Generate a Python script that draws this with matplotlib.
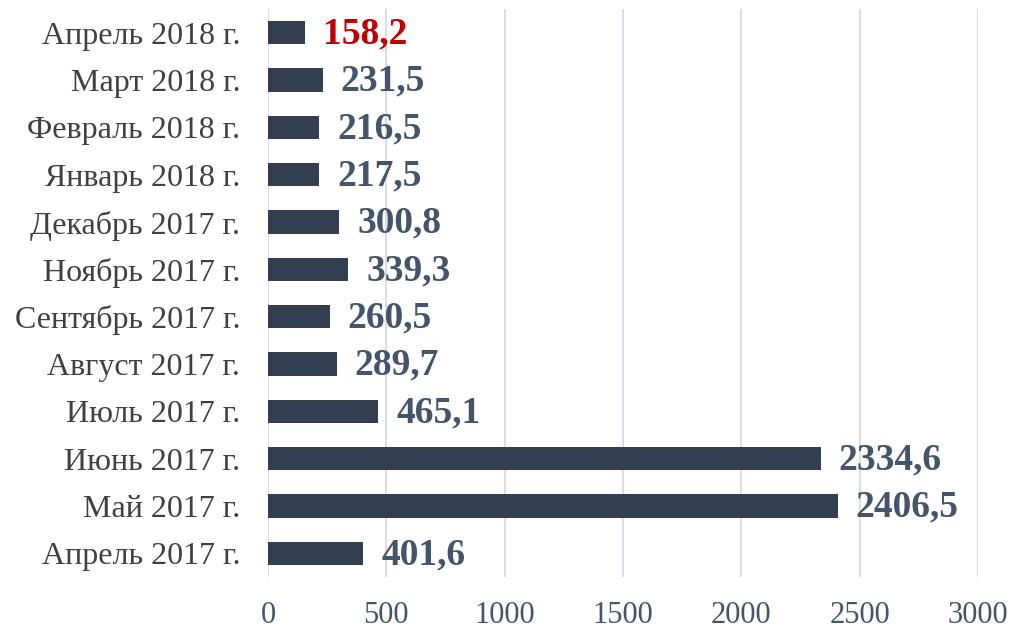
import matplotlib
matplotlib.use("Agg")
import matplotlib.pyplot as plt

categories = ["Апрель 2017 г.", "Май 2017 г.", "Июнь 2017 г.", "Июль 2017 г.",
              "Август 2017 г.", "Сентябрь 2017 г.", "Ноябрь 2017 г.", "Декабрь 2017 г.",
              "Январь 2018 г.", "Февраль 2018 г.", "Март 2018 г.", "Апрель 2018 г."]
values = [401.6, 2406.5, 2334.6, 465.1, 289.7, 260.5, 339.3, 300.8, 217.5, 216.5, 231.5, 158.2]
value_labels = ["401,6", "2406,5", "2334,6", "465,1", "289,7", "260,5", "339,3", "300,8",
                "217,5", "216,5", "231,5", "158,2"]
xticks = [0, 500, 1000, 1500, 2000, 2500, 3000]

plt.rcParams['font.family'] = ['Liberation Serif', 'DejaVu Serif']

fig = plt.figure(figsize=(10.14, 6.29), dpi=100)
ax = fig.add_axes([268/1014, 1 - 577/629, (978-268)/1014, (577-9)/629])

bar_color = "#333F50"
label_color = "#44546A"
ypos = list(range(len(categories)))
ax.barh(ypos, values, height=0.49, color=bar_color, zorder=3)

for y, v, lab in zip(ypos, values, value_labels):
    col = "#C00000" if y == len(categories) - 1 else label_color
    ax.annotate(lab, xy=(v, y), xytext=(13, -1), textcoords="offset points",
                ha="left", va="center", fontsize=27, fontweight="bold", color=col,
                zorder=4)

ax.set_xlim(0, 3000)
ax.set_ylim(-0.5, len(categories) - 0.5)
ax.set_xticks(xticks)
ax.set_xticklabels([str(t) for t in xticks])
ax.set_yticks(ypos)
ax.set_yticklabels(categories)
ax.tick_params(axis="x", length=0, pad=17, labelsize=22, labelcolor=label_color)
ax.tick_params(axis="y", length=0, pad=20, labelsize=23, labelcolor="#404040")
ax.grid(axis="x", color="#D9DEE7", linewidth=1.5, zorder=0)
for s in ax.spines.values():
    s.set_visible(False)

fig.savefig("out.png", dpi=100)
